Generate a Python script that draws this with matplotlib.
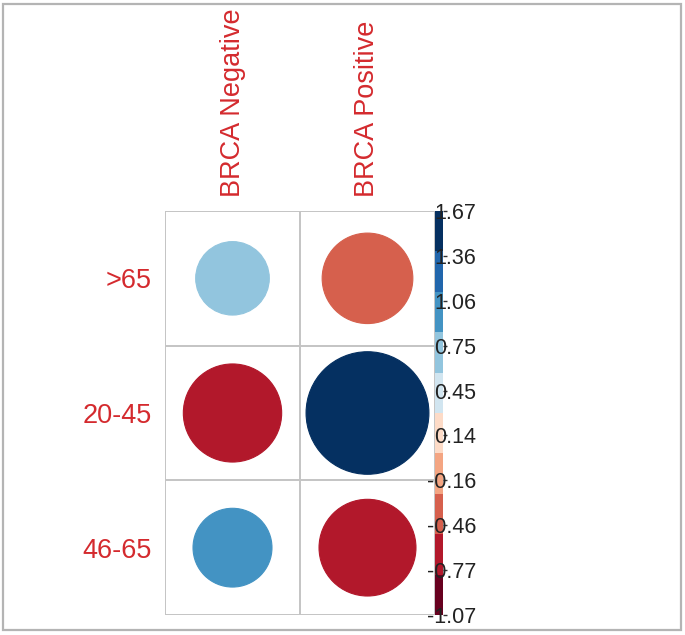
import numpy as np
import matplotlib
matplotlib.use("Agg")
import matplotlib.pyplot as plt
from matplotlib.colors import ListedColormap, Normalize, BoundaryNorm
from matplotlib.patches import Circle, Rectangle
import matplotlib as mpl

plt.rcParams['font.family'] = ['Liberation Sans', 'DejaVu Sans']

# data (rows top to bottom)
row_labels = ['>65', '20-45', '46-65']
col_labels = ['BRCA Negative', 'BRCA Positive']
values = [[0.60, -0.91],
          [-1.07, 1.67],
          [0.69, -1.04]]
cbar_labels = ['-1.07', '-0.77', '-0.46', '-0.16', '0.14', '0.45', '0.75', '1.06', '1.36', '1.67']

# RdBu palette, 10 bins like corrplot
palette = ['#67001F', '#B2182B', '#D6604D', '#F4A582', '#FDDBC7',
           '#D1E5F0', '#92C5DE', '#4393C3', '#2166AC', '#053061']
cmap = ListedColormap(palette)

vals = np.array(values)
vmin, vmax = vals.min(), vals.max()
zoom = 1.0 / max(abs(vmin), abs(vmax))
scaled = vals * zoom
bin_norm = BoundaryNorm(np.linspace(-1, 1, 11), cmap.N)

W, H = 685, 635
fig = plt.figure(figsize=(W / 100, H / 100), dpi=100)

# outer frame of the picture
fig.patches.append(Rectangle((3 / W, 5 / H), 678 / W, 626 / H, transform=fig.transFigure,
                             fill=False, edgecolor='#b4b4b4', linewidth=1.6))

gx0, gx1, gy0, gy1 = 165, 435, 211, 615
ax = fig.add_axes([gx0 / W, 1 - gy1 / H, (gx1 - gx0) / W, (gy1 - gy0) / H])
ncol, nrow = len(col_labels), len(row_labels)
ax.set_xlim(0, ncol)
ax.set_ylim(0, nrow)
ax.axis('off')

grid_c = '#c4c4c4'
for x in range(ncol + 1):
    ax.plot([x, x], [0, nrow], color=grid_c, lw=1.4, zorder=1)
for y in range(nrow + 1):
    ax.plot([0, ncol], [y, y], color=grid_c, lw=1.4, zorder=1)

for i in range(nrow):
    for j in range(ncol):
        s = scaled[i, j]
        r = 0.455 * np.sqrt(abs(s))
        col = cmap(bin_norm(s))
        ax.add_patch(Circle((j + 0.5, nrow - 0.5 - i), r, facecolor=col,
                            edgecolor=col, lw=0.8, zorder=2))

lab_c = '#d42a2e'
for i, lab in enumerate(row_labels):
    ax.annotate(lab, (0, nrow - 0.5 - i), xytext=(-9.5, 0), textcoords='offset points',
                ha='right', va='center_baseline', fontsize=19.5, color=lab_c)
for j, lab in enumerate(col_labels):
    ax.annotate(lab, (j + 0.5, nrow), xytext=(0, 10), textcoords='offset points',
                ha='center', va='bottom', rotation=90, fontsize=19.5, color=lab_c)

# colour bar
cax = fig.add_axes([gx1 / W, 1 - gy1 / H, 8 / W, (gy1 - gy0) / H])
cb = mpl.colorbar.ColorbarBase(cax, cmap=cmap, norm=Normalize(vmin, vmax),
                               orientation='vertical')
cb.outline.set_visible(False)
cb.set_ticks(np.linspace(vmin, vmax, len(cbar_labels)))
cb.set_ticklabels(cbar_labels)
cax.tick_params(length=3, width=1, color='#333333', pad=21, labelsize=15.5,
                labelcolor='#222222')
for t in cax.get_yticklabels():
    t.set_ha('right')

fig.savefig('out.png', dpi=100)
